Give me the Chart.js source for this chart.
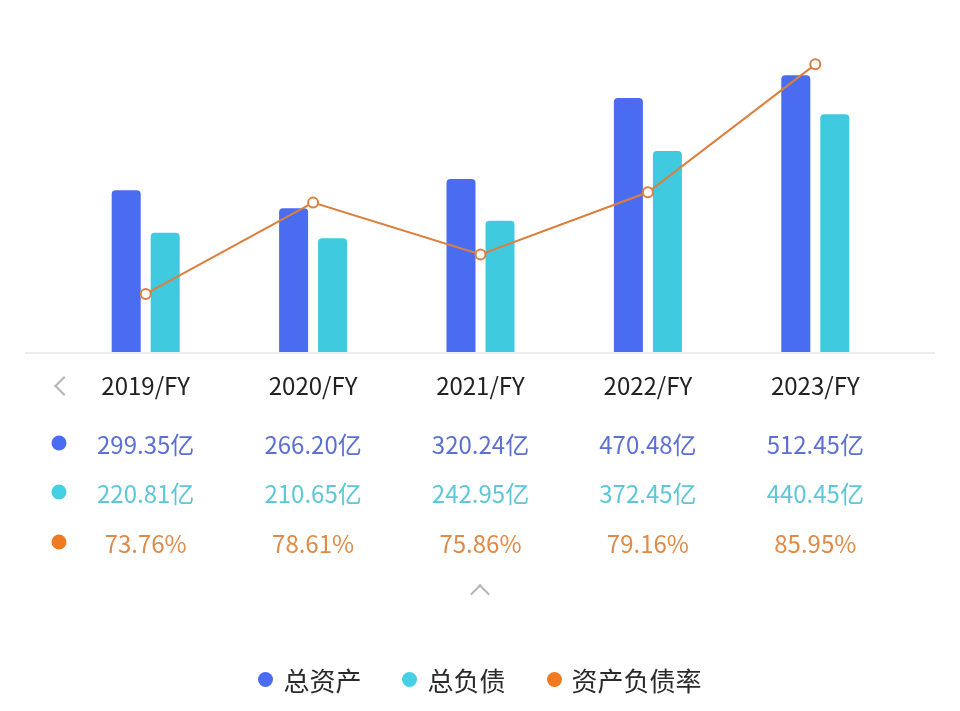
<!DOCTYPE html>
<html lang="zh-CN">
<head>
<meta charset="UTF-8">
<title>总资产 / 总负债 / 资产负债率</title>
<script src="https://cdn.jsdelivr.net/npm/chart.js"></script>
<style>
  html, body { margin: 0; padding: 0; background: #fff; }
  body { width: 960px; height: 711px; position: relative; overflow: hidden;
         font-family: "Noto Sans CJK SC", "Noto Sans", sans-serif; }
  #chart { position: absolute; left: 0; top: 0; }
  #table { position: absolute; left: 0; top: 0; width: 960px; height: 711px; }
  .cell { position: absolute; transform: translate(-50%, -50%); white-space: nowrap; font-size: 24px; }
  .dot { position: absolute; width: 15px; height: 15px; border-radius: 50%; transform: translate(-50%, -50%); }
  .chev { position: absolute; width: 12px; height: 12px; border-left: 2px solid #b5b5b5; border-bottom: 2px solid #b5b5b5; }
  #legend { position: absolute; left: 0; top: 661px; width: 960px; display: flex; justify-content: center;
            align-items: center; gap: 41px; font-size: 26px; color: #2a2a2a; }
  #legend .item { display: flex; align-items: center; gap: 10px; }
  #legend .ldot { width: 15px; height: 15px; border-radius: 50%; }
</style>
</head>
<body>
<canvas id="chart" width="960" height="711"></canvas>
<div id="table"></div>
<div id="legend"></div>

<script>
  const years = ['2019/FY', '2020/FY', '2021/FY', '2022/FY', '2023/FY'];
  const totalAssets = [299.35, 266.20, 320.24, 470.48, 512.45];      // 亿
  const totalLiabilities = [220.81, 210.65, 242.95, 372.45, 440.45]; // 亿
  const debtRatio = [73.76, 78.61, 75.86, 79.16, 85.95];             // %

  const seriesNames = ['总资产', '总负债', '资产负债率'];
  const dotColors = ['#4a6cf5', '#45cfe5', '#f07a22'];
  const textColors = ['#5b70d2', '#5ec7d7', '#e08a48'];

  // light gray base line, wider than the plot area
  const baseLine = {
    id: 'baseLine',
    beforeDatasetsDraw(chart) {
      const ctx = chart.ctx;
      const y = chart.chartArea.bottom + 1;
      ctx.save();
      ctx.strokeStyle = '#e8e8e8';
      ctx.lineWidth = 1.5;
      ctx.beginPath();
      ctx.moveTo(25, y);
      ctx.lineTo(935, y);
      ctx.stroke();
      ctx.restore();
    }
  };

  const chart = new Chart(document.getElementById('chart'), {
    data: {
      labels: years,
      datasets: [
        {
          type: 'line',
          label: seriesNames[2],
          data: debtRatio,
          yAxisID: 'y1',
          order: 0,
          borderColor: '#dc7f3e',
          borderWidth: 2,
          pointRadius: 5,
          pointBorderWidth: 2,
          pointBackgroundColor: '#fff',
          pointBorderColor: '#dc7f3e',
          tension: 0
        },
        {
          type: 'bar',
          label: seriesNames[0],
          data: totalAssets,
          yAxisID: 'y',
          order: 1,
          backgroundColor: '#4a6cf0',
          borderRadius: { topLeft: 4, topRight: 4, bottomLeft: 0, bottomRight: 0 },
          categoryPercentage: 0.466,
          barPercentage: 0.744
        },
        {
          type: 'bar',
          label: seriesNames[1],
          data: totalLiabilities,
          yAxisID: 'y',
          order: 2,
          backgroundColor: '#3fcae0',
          borderRadius: { topLeft: 4, topRight: 4, bottomLeft: 0, bottomRight: 0 },
          categoryPercentage: 0.466,
          barPercentage: 0.744
        }
      ]
    },
    options: {
      responsive: false,
      animation: false,
      layout: { padding: { left: 62, right: 61, top: 28, bottom: 299 } },
      plugins: { legend: { display: false }, tooltip: { enabled: false } },
      scales: {
        x: {
          grid: { display: false, drawTicks: false },
          border: { display: false },
          ticks: { color: '#222', padding: 19, font: { size: 24, family: '"Noto Sans CJK SC", "Noto Sans", sans-serif' } },
          afterFit(scale) { scale.height = 60; }
        },
        y: { display: false, min: 0, max: 600 },
        y1: { display: false, position: 'right', min: 70.68, max: 87.88 }
      }
    },
    plugins: [baseLine]
  });

  // value rows under the axis, lined up with the category centres
  const table = document.getElementById('table');
  const rows = [
    { y: 443, vals: totalAssets.map(v => v.toFixed(2) + '亿') },
    { y: 492, vals: totalLiabilities.map(v => v.toFixed(2) + '亿') },
    { y: 542, vals: debtRatio.map(v => v.toFixed(2) + '%') }
  ];
  rows.forEach((row, r) => {
    const dot = document.createElement('div');
    dot.className = 'dot';
    dot.style.left = '59px';
    dot.style.top = row.y + 'px';
    dot.style.background = dotColors[r];
    table.appendChild(dot);
    row.vals.forEach((txt, i) => {
      const c = document.createElement('div');
      c.className = 'cell';
      c.textContent = txt;
      c.style.left = chart.scales.x.getPixelForValue(i) + 'px';
      c.style.top = row.y + 'px';
      c.style.color = textColors[r];
      table.appendChild(c);
    });
  });

  // "<" and "^" chevrons
  const left = document.createElement('div');
  left.className = 'chev';
  left.style.left = '57px'; left.style.top = '379px';
  left.style.transform = 'rotate(45deg)';
  table.appendChild(left);
  const up = document.createElement('div');
  up.className = 'chev';
  up.style.left = '473px'; up.style.top = '587px';
  up.style.transform = 'rotate(135deg)';
  table.appendChild(up);

  // legend
  const legend = document.getElementById('legend');
  seriesNames.forEach((name, i) => {
    const item = document.createElement('div');
    item.className = 'item';
    const d = document.createElement('span');
    d.className = 'ldot';
    d.style.background = dotColors[i];
    const t = document.createElement('span');
    t.textContent = name;
    item.appendChild(d);
    item.appendChild(t);
    legend.appendChild(item);
  });
</script>
</body>
</html>
